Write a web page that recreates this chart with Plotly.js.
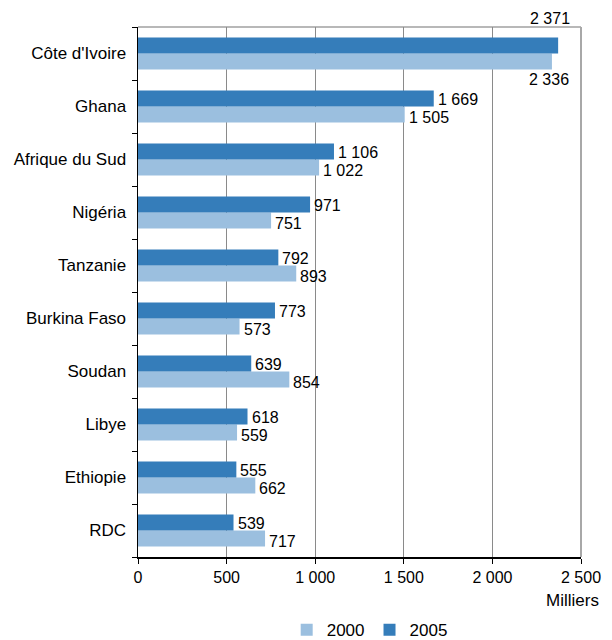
<!DOCTYPE html>
<html>
<head>
<meta charset="utf-8">
<script src="https://cdn.plot.ly/plotly-3.0.1.min.js"></script>
<style>html,body{margin:0;padding:0;background:#fff;}#chart{width:612px;height:640px;}</style>
</head>
<body>
<div id="chart"></div>
<script>
// Top-to-bottom order as shown in the chart
var countries = ["Côte d'Ivoire", "Ghana", "Afrique du Sud", "Nigéria", "Tanzanie", "Burkina Faso", "Soudan", "Libye", "Ethiopie", "RDC"];
var values2000 = [2336, 1505, 1022, 751, 893, 573, 854, 559, 662, 717];
var values2005 = [2371, 1669, 1106, 971, 792, 773, 639, 618, 555, 539];
var xTicks = [0, 500, 1000, 1500, 2000, 2500];
var unitLabel = "Milliers";

var colLight = "#9bbfdf";
var colDark = "#357dba";
var font = "Liberation Sans, Arial, sans-serif";

// Plot bottom-to-top so the 2005 bar sits above the 2000 bar
var cats = countries.slice().reverse();
var v2000 = values2000.slice().reverse();
var v2005 = values2005.slice().reverse();

function fmt(n) {
  return String(n).replace(/\B(?=(\d{3})+(?!\d))/g, " ");
}

var traces = [
  {type: "bar", orientation: "h", name: "2000", y: cats, x: v2000, marker: {color: colLight}, hoverinfo: "x"},
  {type: "bar", orientation: "h", name: "2005", y: cats, x: v2005, marker: {color: colDark}, hoverinfo: "x"}
];

var labelFont = {family: font, size: 16, color: "#000"};
var annotations = [];
for (var i = 0; i < cats.length; i++) {
  var isTopRow = (i === cats.length - 1);
  if (isTopRow) {
    annotations.push({x: v2005[i], y: cats[i], xref: "x", yref: "y", text: fmt(v2005[i]), showarrow: false,
      xanchor: "center", yanchor: "middle", xshift: -8, yshift: 35, font: labelFont});
    annotations.push({x: v2000[i], y: cats[i], xref: "x", yref: "y", text: fmt(v2000[i]), showarrow: false,
      xanchor: "center", yanchor: "middle", xshift: -3, yshift: -26, font: labelFont});
  } else {
    annotations.push({x: v2005[i], y: cats[i], xref: "x", yref: "y", text: fmt(v2005[i]), showarrow: false,
      xanchor: "left", yanchor: "middle", xshift: 2, yshift: 7, font: labelFont});
    annotations.push({x: v2000[i], y: cats[i], xref: "x", yref: "y", text: fmt(v2000[i]), showarrow: false,
      xanchor: "left", yanchor: "middle", xshift: 2, yshift: -11, font: labelFont});
  }
}
annotations.push({xref: "paper", yref: "paper", x: 1, y: 0, xanchor: "right", yanchor: "top", xshift: 20, yshift: -32,
  text: unitLabel, showarrow: false, font: {family: font, size: 17, color: "#000"}});

var layout = {
  width: 612, height: 640,
  margin: {l: 138, r: 31, t: 27, b: 83, pad: 0, autoexpand: false},
  paper_bgcolor: "#fff", plot_bgcolor: "#fff",
  separators: ", ",
  font: {family: font, size: 16, color: "#000"},
  barmode: "group", bargap: 0.4, bargroupgap: 0,
  showlegend: true,
  legend: {orientation: "h", x: 0.523, xanchor: "center", y: -0.138, yanchor: "middle",
    font: {family: font, size: 17, color: "#000"}, itemwidth: 30, tracegroupgap: 0},
  xaxis: {range: [0, 2500], autorange: false, tickvals: xTicks, tickformat: ",d", showgrid: true, gridcolor: "#8a8a8a", gridwidth: 1,
    zeroline: false, showline: true, linecolor: "#000", linewidth: 1.5, ticks: "outside", ticklen: 5, tickcolor: "#000",
    tickfont: {family: font, size: 16, color: "#000"}, fixedrange: true},
  yaxis: {type: "category", range: [-0.5, cats.length - 0.5], autorange: false, showgrid: false, zeroline: false,
    showline: true, linecolor: "#000", linewidth: 1.5,
    ticks: "outside", tickson: "boundaries", ticklen: 5, tickcolor: "#000", ticklabelstandoff: 7,
    tickfont: {family: font, size: 17, color: "#000"}, fixedrange: true},
  shapes: [
    {type: "line", xref: "paper", yref: "paper", x0: 0, x1: 1, y0: 1, y1: 1, line: {color: "#a0a0a0", width: 1.5}, layer: "below"},
    {type: "line", xref: "paper", yref: "paper", x0: 1, x1: 1, y0: 0, y1: 1, line: {color: "#a8a8a8", width: 2}, layer: "below"}
  ],
  annotations: annotations
};

Plotly.newPlot("chart", traces, layout, {displayModeBar: false, staticPlot: true});
</script>
</body>
</html>
